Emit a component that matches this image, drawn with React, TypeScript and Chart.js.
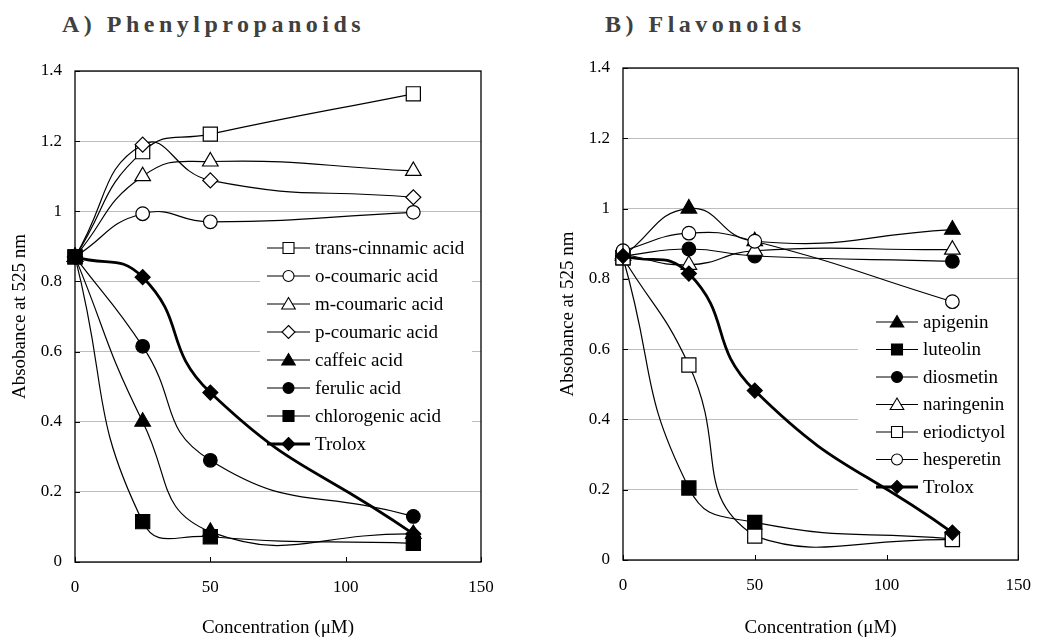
import React, { useEffect, useRef } from 'react';
import { Chart, registerables } from 'chart.js';

Chart.register(...registerables);

// ---------- data ----------
const concentrations = [0, 25, 50, 125];
const xTickLabels = ['0', '50', '100', '150'];
const yTickLabels = ['0', '0.2', '0.4', '0.6', '0.8', '1', '1.2', '1.4'];

const phenylLabels = [
  'trans-cinnamic acid',
  'o-coumaric acid',
  'm-coumaric acid',
  'p-coumaric acid',
  'caffeic acid',
  'ferulic acid',
  'chlorogenic acid',
  'Trolox',
];
const transCinnamic = [0.87, 1.17, 1.22, 1.335];
const oCoumaric = [0.87, 0.993, 0.97, 0.997];
const mCoumaric = [0.87, 1.1, 1.142, 1.115];
const pCoumaric = [0.87, 1.19, 1.088, 1.04];
const caffeic = [0.87, 0.4, 0.086, 0.08];
const ferulic = [0.87, 0.615, 0.29, 0.13];
const chlorogenic = [0.87, 0.115, 0.072, 0.053];
const troloxA = [0.87, 0.812, 0.483, 0.08];

const flavLabels = ['apigenin', 'luteolin', 'diosmetin', 'naringenin', 'eriodictyol', 'hesperetin', 'Trolox'];
const apigenin = [0.865, 1.0, 0.907, 0.94];
const luteolin = [0.86, 0.205, 0.107, 0.06];
const diosmetin = [0.865, 0.885, 0.865, 0.85];
const naringenin = [0.87, 0.84, 0.88, 0.883];
const eriodictyol = [0.86, 0.555, 0.068, 0.058];
const hesperetin = [0.88, 0.93, 0.907, 0.735];
const troloxB = [0.865, 0.815, 0.482, 0.078];

type Style = 'rect' | 'circle' | 'triangle' | 'rectRot';
interface Series { label: string; values: number[]; style: Style; filled: boolean; thick?: boolean }

const phenylSeries: Series[] = [
  { label: phenylLabels[0], values: transCinnamic, style: 'rect', filled: false },
  { label: phenylLabels[1], values: oCoumaric, style: 'circle', filled: false },
  { label: phenylLabels[2], values: mCoumaric, style: 'triangle', filled: false },
  { label: phenylLabels[3], values: pCoumaric, style: 'rectRot', filled: false },
  { label: phenylLabels[4], values: caffeic, style: 'triangle', filled: true },
  { label: phenylLabels[5], values: ferulic, style: 'circle', filled: true },
  { label: phenylLabels[6], values: chlorogenic, style: 'rect', filled: true },
  { label: phenylLabels[7], values: troloxA, style: 'rectRot', filled: true, thick: true },
];

const flavSeries: Series[] = [
  { label: flavLabels[0], values: apigenin, style: 'triangle', filled: true },
  { label: flavLabels[1], values: luteolin, style: 'rect', filled: true },
  { label: flavLabels[2], values: diosmetin, style: 'circle', filled: true },
  { label: flavLabels[3], values: naringenin, style: 'triangle', filled: false },
  { label: flavLabels[4], values: eriodictyol, style: 'rect', filled: false },
  { label: flavLabels[5], values: hesperetin, style: 'circle', filled: false },
  { label: flavLabels[6], values: troloxB, style: 'rectRot', filled: true, thick: true },
];

// ---------- styling ----------
const FONT = '"Liberation Serif", "Times New Roman", serif';
const pointRadii: Record<Style, number> = { rect: 10, circle: 6.8, triangle: 9, rectRot: 7.5 };

function drawLegendMarker(ctx: CanvasRenderingContext2D, style: Style, x: number, y: number, filled: boolean) {
  ctx.beginPath();
  if (style === 'circle') {
    ctx.arc(x, y, 5.5, 0, Math.PI * 2);
  } else if (style === 'rect') {
    ctx.rect(x - 5.5, y - 5.5, 11, 11);
  } else if (style === 'triangle') {
    ctx.moveTo(x, y - 6.5);
    ctx.lineTo(x + 6.8, y + 5);
    ctx.lineTo(x - 6.8, y + 5);
    ctx.closePath();
  } else {
    ctx.moveTo(x, y - 6.5);
    ctx.lineTo(x + 6.5, y);
    ctx.lineTo(x, y + 6.5);
    ctx.lineTo(x - 6.5, y);
    ctx.closePath();
  }
  ctx.fillStyle = filled ? '#000' : '#fff';
  ctx.fill();
  ctx.lineWidth = 1.1;
  ctx.strokeStyle = '#000';
  ctx.stroke();
}

interface PanelCfg {
  width: number;
  left: number;
  padLeft: number;
  padTop: number;
  padRight: number;
  xAxisHeight: number;
  series: Series[];
  legend: { bx: number; by: number; bw: number; bh: number; lx0: number; lx1: number; tx: number; y0: number; dy: number };
}

function buildConfig(cfg: PanelCfg): any {
  const n = cfg.series.length;
  const legendPlugin = {
    id: 'boxLegend',
    beforeDatasetsDraw(chart: any) {
      const ctx: CanvasRenderingContext2D = chart.ctx;
      const L = cfg.legend;
      ctx.save();
      ctx.fillStyle = '#fff';
      ctx.fillRect(L.bx, L.by, L.bw, L.bh);
      cfg.series.forEach((s, i) => {
        const y = L.y0 + i * L.dy;
        ctx.beginPath();
        ctx.moveTo(L.lx0, y);
        ctx.lineTo(L.lx1, y);
        ctx.lineWidth = s.thick ? 2.8 : 1.2;
        ctx.strokeStyle = '#000';
        ctx.stroke();
        drawLegendMarker(ctx, s.style, (L.lx0 + L.lx1) / 2, y, s.filled);
        ctx.fillStyle = '#000';
        ctx.font = `19px ${FONT}`;
        ctx.textAlign = 'left';
        ctx.textBaseline = 'middle';
        ctx.fillText(s.label, L.tx, y + 1);
      });
      ctx.restore();
    },
  };
  const framePlugin = {
    id: 'frame',
    afterDraw(chart: any) {
      const ctx: CanvasRenderingContext2D = chart.ctx;
      const a = chart.chartArea;
      const xs = chart.scales.x;
      const ys = chart.scales.y;
      ctx.save();
      ctx.strokeStyle = '#000';
      ctx.lineWidth = 1.3;
      ctx.strokeRect(a.left, a.top, a.right - a.left, a.bottom - a.top);
      ctx.lineWidth = 1;
      ctx.beginPath();
      ys.ticks.forEach((t: any) => {
        const y = Math.round(ys.getPixelForValue(t.value)) + 0.5;
        ctx.moveTo(a.left, y);
        ctx.lineTo(a.left + 5, y);
      });
      xs.ticks.forEach((t: any) => {
        const x = Math.round(xs.getPixelForValue(t.value)) + 0.5;
        ctx.moveTo(x, a.bottom);
        ctx.lineTo(x, a.bottom - 5);
      });
      ctx.stroke();
      ctx.restore();
    },
  };

  return {
    type: 'line',
    data: {
      datasets: cfg.series.map((s, i) => ({
        label: s.label,
        data: concentrations.map((c, j) => ({ x: c, y: s.values[j] })),
        borderColor: '#000',
        borderWidth: s.thick ? 2.8 : 1.2,
        tension: 0.5,
        fill: false,
        pointStyle: s.style,
        pointRadius: pointRadii[s.style],
        pointBackgroundColor: s.filled ? '#000' : '#fff',
        pointBorderColor: '#000',
        pointBorderWidth: 1.2,
        clip: false,
        order: n - i,
      })),
    },
    options: {
      responsive: false,
      maintainAspectRatio: false,
      animation: false,
      events: [],
      layout: { padding: { left: cfg.padLeft, top: cfg.padTop, right: cfg.padRight, bottom: 0 } },
      plugins: { legend: { display: false }, tooltip: { enabled: false }, title: { display: false } },
      scales: {
        x: {
          type: 'linear',
          min: 0,
          max: 150,
          ticks: {
            stepSize: 50,
            padding: 15,
            color: '#000',
            font: { family: FONT, size: 17 },
            maxRotation: 0,
            callback: (_v: any, i: number) => xTickLabels[i],
          },
          grid: { display: false, drawTicks: false },
          border: { display: false },
          title: {
            display: true,
            text: 'Concentration (μM)',
            color: '#000',
            font: { family: FONT, size: 19 },
            padding: { top: 0, bottom: 1 },
          },
          afterFit: (s: any) => {
            s.height = cfg.xAxisHeight;
          },
        },
        y: {
          type: 'linear',
          min: 0,
          max: 1.4,
          ticks: {
            stepSize: 0.2,
            padding: 13,
            color: '#000',
            font: { family: FONT, size: 17 },
            callback: (_v: any, i: number) => yTickLabels[i],
          },
          grid: { color: '#bdbdbd', lineWidth: 1, drawTicks: false },
          border: { display: false },
          title: {
            display: true,
            text: 'Absobance at 525 nm',
            color: '#000',
            font: { family: FONT, size: 19 },
            padding: { top: 9, bottom: 0 },
          },
          afterFit: (s: any) => {
            s.width = 75;
          },
        },
      },
    },
    plugins: [legendPlugin, framePlugin],
  };
}

function Panel({ cfg }: { cfg: PanelCfg }) {
  const ref = useRef<HTMLCanvasElement>(null);
  useEffect(() => {
    const chart = new Chart(ref.current as HTMLCanvasElement, buildConfig(cfg));
    return () => chart.destroy();
  }, []);
  return (
    <canvas
      ref={ref}
      width={cfg.width}
      height={640}
      style={{ position: 'absolute', left: cfg.left, top: 0, width: cfg.width, height: 640 }}
    />
  );
}

const leftCfg: PanelCfg = {
  width: 520,
  left: 0,
  padLeft: 0,
  padTop: 71,
  padRight: 39,
  xAxisHeight: 78,
  series: phenylSeries,
  legend: { bx: 260, by: 234, bw: 212, bh: 222, lx0: 267, lx1: 310, tx: 315, y0: 248, dy: 28 },
};

const rightCfg: PanelCfg = {
  width: 526,
  left: 520,
  padLeft: 28,
  padTop: 68,
  padRight: 19,
  xAxisHeight: 80,
  series: flavSeries,
  legend: { bx: 338, by: 308, bw: 162, bh: 192, lx0: 356, lx1: 398, tx: 403, y0: 322, dy: 27.5 },
};

const titleStyle: React.CSSProperties = {
  position: 'absolute',
  top: 12,
  fontFamily: FONT,
  fontWeight: 'bold',
  fontSize: 24,
  lineHeight: '24px',
  letterSpacing: '4.5px',
  color: '#404040',
  whiteSpace: 'nowrap',
};

export default function App() {
  return (
    <div style={{ position: 'absolute', left: 0, top: 0, width: 1046, height: 640, background: '#fff', overflow: 'hidden' }}>
      <div style={{ ...titleStyle, left: 62 }}>A) Phenylpropanoids</div>
      <div style={{ ...titleStyle, left: 605 }}>B) Flavonoids</div>
      <Panel cfg={leftCfg} />
      <Panel cfg={rightCfg} />
    </div>
  );
}
